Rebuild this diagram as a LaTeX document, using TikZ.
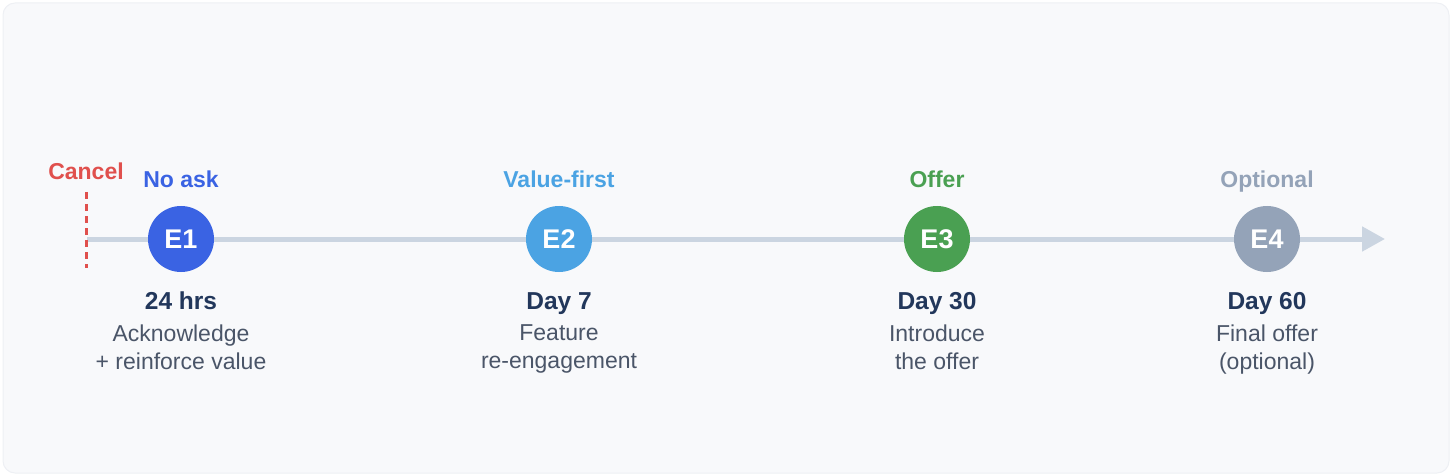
\documentclass[tikz,border=0pt]{standalone}
\usepackage{fontspec}
\setmainfont{Liberation Sans}
\usetikzlibrary{positioning,arrows.meta}
\usepackage{xcolor}
\definecolor{panelbg}{HTML}{F8F9FB}
\definecolor{panelline}{HTML}{EEF0F4}
\definecolor{trackgray}{HTML}{CBD5E1}
\definecolor{cancelred}{HTML}{E0504D}
\definecolor{askblue}{HTML}{3A63E3}
\definecolor{valueblue}{HTML}{4BA3E3}
\definecolor{offergreen}{HTML}{4AA052}
\definecolor{optgray}{HTML}{94A3B8}
\definecolor{daynavy}{HTML}{22375B}
\definecolor{notegray}{HTML}{4A5568}

\begin{document}
\begin{tikzpicture}[
      x=1pt, y=1pt,
      track/.style={draw=trackgray, line width=5pt, -{Triangle[length=23pt, width=24pt]}},
      stepdot/.style={circle, minimum size=66pt, inner sep=0pt, outer sep=0pt, text=white, font=\fontsize{27}{30}\selectfont\bfseries},
      tag/.style={inner sep=0pt, text depth=0pt, font=\fontsize{23}{26}\selectfont\bfseries},
      day/.style={inner sep=0pt, text height=17pt, text depth=0pt, text=daynavy, font=\fontsize{24.5}{28}\selectfont\bfseries},
      note/.style={inner sep=0pt, align=center, text=notegray, font=\fontsize{23}{28}\selectfont}
  ]
      % Panel
      \useasboundingbox (0,0) rectangle (1452,-476);
      \filldraw[fill=panelbg, draw=panelline, line width=1pt, rounded corners=12pt] (3,-3) rectangle (1449,-473);

      % Timeline
      \coordinate (start) at (87,-239);
      \coordinate (tip) at (1385,-239);
      \draw[track] (start) -- (tip);

      % Cancel marker
      \coordinate (cuttop) at (86,-192);
      \coordinate (cutbot) at (86,-268);
      \draw[cancelred, line width=3pt, dash pattern=on 7pt off 5pt] (cuttop) -- (cutbot);
      \node (cancel) [tag, text=cancelred, above=12pt of cuttop] {Cancel};

      % Stations
      \node (e1) [stepdot, fill=askblue] at (181,-239) {E1};
      \node (e2) [stepdot, fill=valueblue] at (559,-239) {E2};
      \node (e3) [stepdot, fill=offergreen] at (937,-239) {E3};
      \node (e4) [stepdot, fill=optgray] at (1267,-239) {E4};

      % Labels above
      \node (tag1) [tag, text=askblue, above=18pt of e1] {No ask};
      \node (tag2) [tag, text=valueblue, above=18pt of e2] {Value-first};
      \node (tag3) [tag, text=offergreen, above=18pt of e3] {Offer};
      \node (tag4) [tag, text=optgray, above=18pt of e4] {Optional};

      % Timing and notes below
      \node (day1) [day, below=20pt of e1] {24 hrs};
      \node (day2) [day, below=20pt of e2] {Day 7};
      \node (day3) [day, below=20pt of e3] {Day 30};
      \node (day4) [day, below=20pt of e4] {Day 60};
      \node (note1) [note, below=15pt of day1] {Acknowledge\\+ reinforce value};
      \node (note2) [note, below=15pt of day2] {Feature\\re-engagement};
      \node (note3) [note, below=15pt of day3] {Introduce\\the offer};
      \node (note4) [note, below=15pt of day4] {Final offer\\(optional)};
  \end{tikzpicture}
\end{document}
